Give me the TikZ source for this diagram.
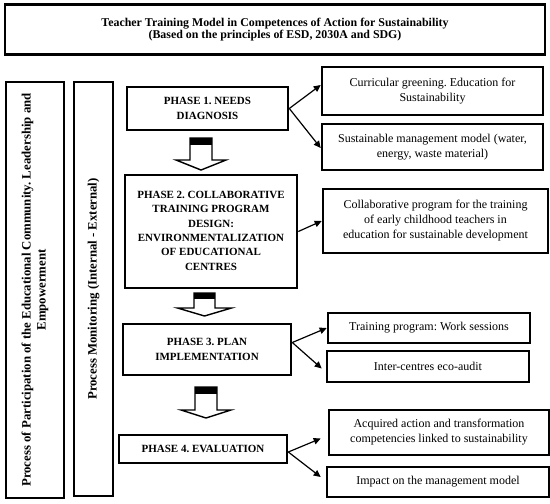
\documentclass[tikz,border=0pt]{standalone}
\usepackage{fontspec}
\setmainfont{Liberation Serif}
\usetikzlibrary{arrows.meta,calc}
\tikzset{
  box/.style={draw=black, line width=2.6pt, fill=white, align=center, inner sep=2pt, font=\fontsize{12}{15}\selectfont},
  phase/.style={box, font=\fontsize{11}{14.3}\selectfont\bfseries},
  side/.style={draw=black, line width=2.4pt, align=center, inner sep=0pt},
  sidetext/.style={rotate=90, align=center, font=\fontsize{12.8}{15}\selectfont\bfseries},
  link/.style={line width=1.2pt, -{Triangle[length=7pt,width=6.5pt]}},
  blockarrow/.style={draw=black, line width=1.4pt, fill=white, line join=miter}
}
\newcommand{\blockarr}[7]{% cx, shaft half, head half, top, headstart, tip, cap
  \draw[blockarrow] (#1-#2,#4) -- (#1-#2,#5) -- (#1-#3,#5) -- (#1,#6) -- (#1+#3,#5) -- (#1+#2,#5) -- (#1+#2,#4) -- cycle;
  \fill[black] (#1-#2,#4) rectangle (#1+#2,#4+#7);
}
\begin{document}
\frenchspacing
\begin{tikzpicture}[x=1pt,y=-1pt]
\useasboundingbox (0,0) rectangle (550,504);
\node[box, font=\fontsize{11.9}{12.5}\selectfont\bfseries, minimum width=540pt, minimum height=50pt] (title) at (275,29.5)
  {Teacher Training Model in Competences of Action for Sustainability\\(Based on the principles of ESD, 2030A and SDG)};
\node[side, minimum width=58pt, minimum height=416pt] (L1) at (35,290) {};
\node[sidetext] (L1t) at (L1.center) {Process of Participation of the Educational Community. Leadership and\\Empowerment};
\node[side, minimum width=39pt, minimum height=414pt] (L2) at (93.5,289) {};
\node[sidetext] (L2t) at (L2.center) {Process Monitoring (Internal - External)};

\node[phase, minimum width=161pt, minimum height=43pt] (p1) at (207.5,108.5) {PHASE 1. NEEDS\\DIAGNOSIS};
\node[phase, minimum width=172pt, minimum height=113pt] (p2) at (211,231.5) {\begin{tabular}{@{}c@{}}PHASE 2. COLLABORATIVE\\TRAINING PROGRAM\\DESIGN:\\ENVIRONMENTALIZATION\\OF EDUCATIONAL\\CENTRES\end{tabular}};
\node[phase, minimum width=168pt, minimum height=51pt] (p3) at (207,349.5) {PHASE 3. PLAN\\IMPLEMENTATION};
\node[phase, minimum width=168pt, minimum height=28pt] (p4) at (203,449) {PHASE 4. EVALUATION};

\node[box, minimum width=221pt, minimum height=48pt] (r1) at (432.5,91) {Curricular greening. Education for\\Sustainability};
\node[box, minimum width=221pt, minimum height=46pt] (r2) at (432.5,147) {Sustainable management model (water,\\energy, waste material)};
\node[box, minimum width=225pt, minimum height=64pt] (r3) at (435.5,221) {Collaborative program for the training\\of early childhood teachers in\\education for sustainable development};
\node[box, minimum width=202pt, minimum height=30pt] (r4) at (429,328) {Training program: Work sessions};
\node[box, minimum width=202pt, minimum height=31pt] (r5) at (428,366.5) {Inter-centres eco-audit};
\node[box, minimum width=220pt, minimum height=45pt] (r6) at (439,432.5) {Acquired action and transformation\\competencies linked to sustainability};
\node[box, minimum width=222pt, minimum height=30pt] (r7) at (438,482) {Impact on the management model};

\draw[link] (p1.east) -- ($(r1.west)+(0,-6)$);
\draw[link] (p1.east) -- ($(r2.west)+(0,1)$);
\draw[link] (p2.east) -- (r3.west);
\draw[link] ($(p3.east)+(0,-7)$) -- (r4.west);
\draw[link] ($(p3.east)+(0,-7)$) -- ($(r5.west)+(-4,2)$);
\draw[link] ($(p4.east)+(0,3)$) -- ($(r6.west)+(-7,6)$);
\draw[link] ($(p4.east)+(0,3)$) -- ($(r7.west)+(-5,-5)$);

\blockarr{201}{11}{25}{138}{160}{170}{7}
\blockarr{204.5}{10.5}{27}{293}{308}{316}{6}
\blockarr{206}{11}{25}{387}{410}{418}{7}
\end{tikzpicture}
\end{document}
